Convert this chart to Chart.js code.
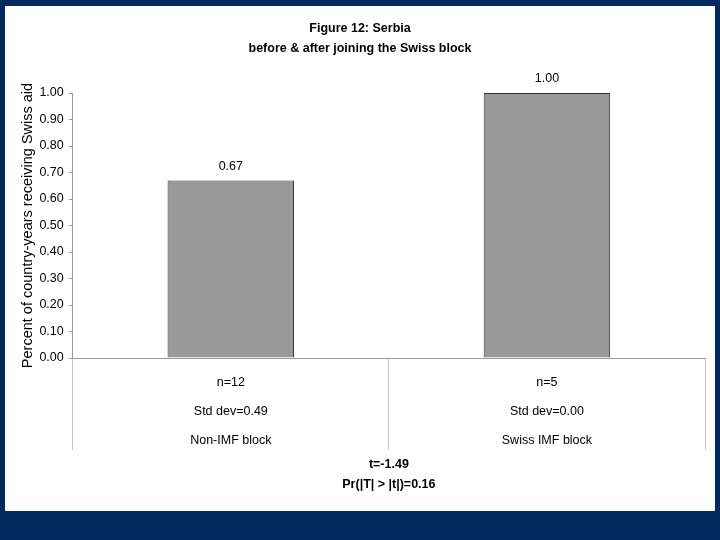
<!DOCTYPE html>
<html lang="en">
<head>
    <meta charset="UTF-8">
    <title>Figure 12: Serbia</title>
    <script src="https://cdn.jsdelivr.net/npm/chart.js@4.4.1/dist/chart.umd.min.js"></script>
    <style>
        html, body {
            margin: 0;
            padding: 0;
            width: 720px;
            height: 540px;
            background-color: #022a5e;
            overflow: hidden;
        }
        #panel {
            position: absolute;
            left: 5px;
            top: 6px;
            width: 710px;
            height: 505px;
            background: #ffffff;
        }
    </style>
</head>
<body>
    <div id="panel">
        <canvas id="chart" width="710" height="505"></canvas>
    </div>

    <script>
        // Data
        const groupNames = ['Non-IMF block', 'Swiss IMF block'];
        const sampleSizes = ['n=12', 'n=5'];
        const stdDevs = ['Std dev=0.49', 'Std dev=0.00'];
        const shareValues = [0.67, 1.00];
        const yTicks = [0, 0.1, 0.2, 0.3, 0.4, 0.5, 0.6, 0.7, 0.8, 0.9, 1.0];
        const titleLines = ['Figure 12: Serbia', 'before & after joining the Swiss block'];
        const testLines = ['t=-1.49', 'Pr(|T| > |t|)=0.16'];

        // each category label is three stacked lines
        const categoryLabels = groupNames.map((g, i) => [sampleSizes[i], stdDevs[i], g]);

        const FONT = "'Liberation Sans', Arial, sans-serif";

        // value labels above the bars
        const valueLabels = {
            id: 'valueLabels',
            afterDatasetsDraw(chart) {
                const ctx = chart.ctx;
                const meta = chart.getDatasetMeta(0);
                ctx.save();
                ctx.font = '12.5px ' + FONT;
                ctx.fillStyle = '#000';
                ctx.textAlign = 'center';
                ctx.textBaseline = 'middle';
                meta.data.forEach((bar, i) => {
                    ctx.fillText(shareValues[i].toFixed(2), bar.x, bar.y - 14);
                });
                ctx.restore();
            }
        };

        new Chart(document.getElementById('chart'), {
            type: 'bar',
            data: {
                labels: categoryLabels,
                datasets: [{
                    data: shareValues,
                    backgroundColor: '#999999',
                    borderColor: '#333333',
                    borderWidth: 1,
                    barPercentage: 0.4,
                    categoryPercentage: 1.0
                }]
            },
            options: {
                responsive: false,
                animation: false,
                layout: {
                    padding: { left: 10, right: 10, top: 0, bottom: 16 }
                },
                plugins: {
                    legend: { display: false },
                    tooltip: { enabled: false },
                    title: {
                        display: true,
                        text: titleLines,
                        color: '#000',
                        font: { family: FONT, size: 12.5, weight: 'bold', lineHeight: 20 / 12.5 },
                        padding: { top: 13, bottom: 34 }
                    }
                },
                scales: {
                    x: {
                        afterFit(scale) {
                            scale.height = 137;
                        },
                        grid: {
                            offset: true,
                            drawOnChartArea: false,
                            drawTicks: true,
                            tickLength: 92,
                            color: '#c4c4c4'
                        },
                        border: { color: '#9a9a9a' },
                        ticks: {
                            color: '#000',
                            padding: -82,
                            font: { family: FONT, size: 12.5, lineHeight: 29 / 12.5 }
                        },
                        title: {
                            display: true,
                            text: testLines,
                            color: '#000',
                            font: { family: FONT, size: 12.5, weight: 'bold', lineHeight: 20 / 12.5 },
                            padding: { top: 1, bottom: 0 }
                        }
                    },
                    y: {
                        min: 0,
                        max: 1,
                        afterBuildTicks(scale) {
                            scale.ticks = yTicks.map(v => ({ value: v }));
                        },
                        grid: {
                            drawOnChartArea: false,
                            tickLength: 4,
                            color: '#9a9a9a'
                        },
                        border: { color: '#9a9a9a' },
                        ticks: {
                            color: '#000',
                            padding: 5,
                            font: { family: FONT, size: 12.5 },
                            callback: (v) => Number(v).toFixed(2)
                        },
                        title: {
                            display: true,
                            text: 'Percent of country-years receiving Swiss aid',
                            color: '#000',
                            font: { family: FONT, size: 14.5 },
                            padding: { top: 4, bottom: -2 }
                        }
                    }
                }
            },
            plugins: [valueLabels]
        });
    </script>
</body>
</html>
